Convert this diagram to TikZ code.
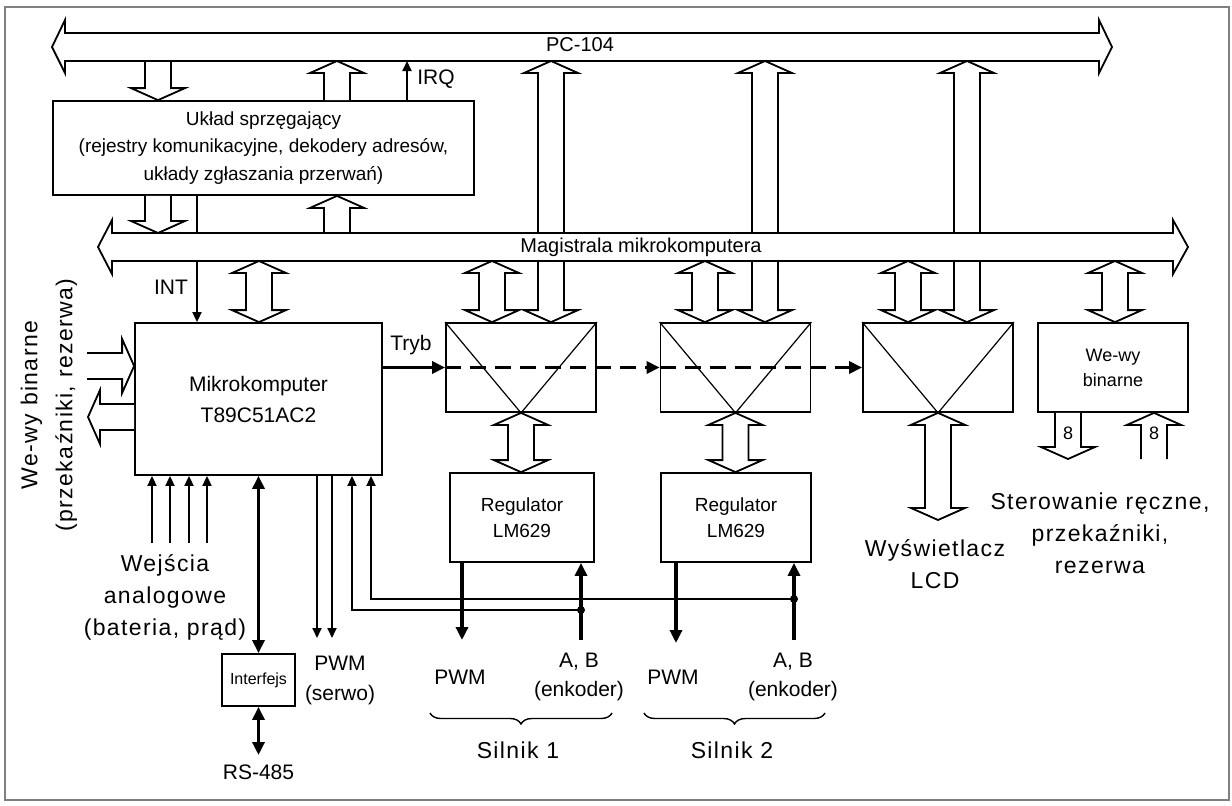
\documentclass[tikz,border=0pt]{standalone}
\usepackage{fontspec}
\setmainfont{Liberation Sans}
\usetikzlibrary{arrows.meta,positioning,calc,decorations.pathreplacing}

% hollow connector, #1 tail, #2 tip
\newcommand{\fatarrow}[2]{%
  \coordinate (fa-t) at (#1);
  \coordinate (fa-p) at (#2);
  \coordinate (fa-h) at ($(fa-p)!12pt!(fa-t)$);
  \filldraw[hollow] ($(fa-t)!13pt!90:(fa-p)$) -- ($(fa-h)!13pt!90:(fa-p)$)
    -- ($(fa-h)!27pt!90:(fa-p)$) -- (fa-p) -- ($(fa-h)!27pt!-90:(fa-p)$)
    -- ($(fa-h)!13pt!-90:(fa-p)$) -- ($(fa-t)!13pt!-90:(fa-p)$);
}
% hollow connector with two heads
\newcommand{\fatdarrow}[2]{%
  \coordinate (fa-a) at (#1);
  \coordinate (fa-b) at (#2);
  \coordinate (fa-ha) at ($(fa-a)!12pt!(fa-b)$);
  \coordinate (fa-hb) at ($(fa-b)!12pt!(fa-a)$);
  \filldraw[hollow] (fa-a) -- ($(fa-ha)!27pt!90:(fa-b)$) -- ($(fa-ha)!13pt!90:(fa-b)$)
    -- ($(fa-hb)!13pt!-90:(fa-a)$) -- ($(fa-hb)!27pt!-90:(fa-a)$) -- (fa-b)
    -- ($(fa-hb)!27pt!90:(fa-a)$) -- ($(fa-hb)!13pt!90:(fa-a)$)
    -- ($(fa-ha)!13pt!-90:(fa-b)$) -- ($(fa-ha)!27pt!-90:(fa-b)$) -- cycle;
}

\begin{document}
\begin{tikzpicture}[x=1pt, y=-1pt,
    box/.style={draw, line width=1.8pt, fill=white, inner sep=0pt, align=center},
    hollow/.style={draw, line width=1.8pt, fill=white, line join=miter},
    ltip/.tip={Triangle[length=10pt, width=9pt]},
    htip/.tip={Triangle[length=13pt, width=12pt]},
    wire/.style={line width=1.8pt, -ltip},
    heavy/.style={line width=3.6pt, -htip},
    lbl/.style={font=\fontsize{21}{30}\selectfont, align=center, inner sep=0pt},
    big/.style={font=\fontsize{23}{32}\selectfont\addfontfeature{LetterSpace=6},
                align=center, inner sep=0pt},
    silbrace/.style={decorate, decoration={brace, mirror, amplitude=11pt}, line width=1.4pt}]
  \useasboundingbox (0,0) rectangle (1232,806);
  \draw[gray, line width=1.5pt] (5,7) rectangle (1229,800);

  % edges of the two buses
  \coordinate (pcS)  at (0,61);
  \coordinate (magN) at (0,233);
  \coordinate (magS) at (0,261);
  % columns of the bus connectors
  \foreach \n/\x in {ukl-in/158, ukl-out/337, irq/407, int/197, mk-bus/259,
                     mx1-bus/492, mx1-pc/551, mx2-bus/705, mx2-pc/765,
                     mx3-bus/908, mx3-pc/967, bin-bus/1115}
    \coordinate (\n) at (\x,0);

  % blocks
  \node[box, minimum width=421, minimum height=94,
        font=\fontsize{19}{27.5}\selectfont] (ukl) at (263.5,148)
       {Układ sprzęgający\\(rejestry komunikacyjne, dekodery adresów,\\układy zgłaszania przerwań)};
  \node[box, minimum width=247, minimum height=152,
        font=\fontsize{21}{31}\selectfont] (mk) at (258.5,399) {Mikrokomputer\\T89C51AC2};
  \node[box, minimum width=150, minimum height=89] (mx1) at (521,367.5) {};
  \node[box, minimum width=150, minimum height=89] (mx2) at (735.5,367.5) {};
  \node[box, minimum width=150, minimum height=89] (mx3) at (938,367.5) {};
  \node[box, minimum width=150, minimum height=89,
        font=\fontsize{18}{25}\selectfont] (bin) at (1113,367.5) {We-wy\\binarne};
  \node[box, minimum width=144, minimum height=89,
        font=\fontsize{19}{26}\selectfont] (reg1) at (522,517.5) {Regulator\\LM629};
  \node[box, minimum width=150, minimum height=89,
        font=\fontsize{19}{26}\selectfont] (reg2) at (736,517.5) {Regulator\\LM629};
  \node[box, minimum width=73, minimum height=52,
        font=\fontsize{16}{20}\selectfont] (ifc) at (258.5,680) {Interfejs};
  \foreach \m in {mx1,mx2,mx3}
    \draw[line width=1.2pt] (\m.north west) -- (\m.south) -- (\m.north east);

  % PC-104 <-> interface block
  \fatarrow{ukl-in |- pcS}{ukl-in |- ukl.north}
  \fatarrow{ukl-out |- ukl.north}{ukl-out |- pcS}
  \fatarrow{ukl-in |- ukl.south}{ukl-in |- magN}
  \fatarrow{ukl-out |- magN}{ukl-out |- ukl.south}
  % local bus <-> blocks
  \foreach \b/\m in {mk-bus/mk, mx1-bus/mx1, mx2-bus/mx2, mx3-bus/mx3, bin-bus/bin}
    {\fatdarrow{\b |- magS}{\b |- \m.north}}
  % straight up to PC-104, under the local bus
  \foreach \b/\m in {mx1-pc/mx1, mx2-pc/mx2, mx3-pc/mx3}
    {\fatdarrow{\b |- \m.north}{\b |- pcS}}
  % to the regulators and the display
  \coordinate (lcd-in) at (938,520);
  \fatdarrow{mx1.south}{mx1.south |- reg1.north}
  \fatdarrow{mx2.south}{mx2.south |- reg2.north}
  \fatdarrow{mx3.south}{lcd-in}
  % binary I/O block
  \coordinate (bin-out) at (1068,459);
  \coordinate (bin-in) at (1154,459);
  \fatarrow{bin-out |- bin.south}{bin-out}
  \fatarrow{bin-in}{bin-in |- bin.south}
  \node[lbl, font=\fontsize{18}{20}\selectfont] (n-out) at (1068,433) {8};
  \node[lbl, font=\fontsize{18}{20}\selectfont] (n-in) at (1154,433) {8};
  % binary I/O of the microcomputer
  \coordinate (lin) at (87,366);
  \coordinate (lout) at (88,417);
  \fatarrow{lin}{lin -| mk.west}
  \fatarrow{lout -| mk.west}{lout}

  % interrupt line, runs under the local bus
  \draw[wire] (int |- ukl.south) -- (int |- mk.north);
  \node[lbl] (int-l) at (171,287) {INT};

  % buses
  \filldraw[hollow] (65,33) -- (1099,33) -- (1099,20) -- (1112,47) -- (1099,73) -- (1099,61)
    -- (65,61) -- (65,73) -- (52,47) -- (65,20) -- cycle;
  \node[lbl, font=\fontsize{20}{24}\selectfont] (pc) at (580,45) {PC-104};
  \filldraw[hollow] (112,233) -- (1173,233) -- (1173,220) -- (1188,247) -- (1173,274) -- (1173,261)
    -- (112,261) -- (112,274) -- (98,247) -- (112,220) -- cycle;
  \node[lbl, font=\fontsize{20}{24}\selectfont] (mag) at (641,247) {Magistrala mikrokomputera};

  \draw[wire] (irq |- ukl.north) -- (irq |- pcS);
  \node[lbl] (irq-l) at (436,79) {IRQ};

  % mode line
  \draw[heavy] (mk.east |- mx1.west) -- (mx1.west);
  \draw[heavy, dash pattern=on 16pt off 9pt] (mx1.west) -- (mx2.west);
  \draw[heavy, dash pattern=on 16pt off 9pt] (mx2.west) -- (mx3.west);
  \node[lbl] (tryb) at (411,345) {Tryb};

  % analog inputs
  \foreach \x in {152,170,189,207}
    \draw[wire] (\x,543) -- (\x,0 |- mk.south);
  \node[big] (ana) at (165,597) {Wejścia\\analogowe\\(bateria, prąd)};

  % RS-485
  \coordinate (rs-in) at (258.5,755);
  \draw[heavy, htip-htip] (mk.south) -- (ifc.north);
  \draw[heavy, htip-htip] (ifc.south) -- (rs-in);
  \node[lbl] (rs) at (258.5,772) {RS-485};

  % servo outputs
  \coordinate (srv-a) at (317,638);
  \coordinate (srv-b) at (332,638);
  \draw[wire] (srv-a |- mk.south) -- (srv-a);
  \draw[wire] (srv-b |- mk.south) -- (srv-b);
  \node[lbl] (srv) at (340,680) {PWM\\(serwo)};

  % motors
  \coordinate (pwm1) at (462,640);
  \coordinate (pwm2) at (676,643);
  \coordinate (enc1) at (581,640);
  \coordinate (enc2) at (794,640);
  \coordinate (fb1) at (581,610);
  \coordinate (fb2) at (794,599);
  \draw[heavy] (pwm1 |- reg1.south) -- (pwm1);
  \draw[heavy] (pwm2 |- reg2.south) -- (pwm2);
  \draw[heavy] (enc1) -- (enc1 |- reg1.south);
  \draw[heavy] (enc2) -- (enc2 |- reg2.south);
  \draw[wire] (fb1) -- (352,610) -- (352,0 |- mk.south);
  \draw[wire] (fb2) -- (371,599) -- (371,0 |- mk.south);
  \fill (fb1) circle[radius=4pt] (fb2) circle[radius=4pt];
  \node[lbl] (pwm1-l) at (460,677) {PWM};
  \node[lbl, font=\fontsize{21}{29}\selectfont] (enc1-l) at (579,677) {A, B\\(enkoder)};
  \node[lbl] (pwm2-l) at (673,677) {PWM};
  \node[lbl, font=\fontsize{21}{29}\selectfont] (enc2-l) at (793,677) {A, B\\(enkoder)};
  \draw[silbrace] (430,713) -- (612,713);
  \draw[silbrace] (644,713) -- (825,713);
  \node[big] (sil1) at (518,750) {Silnik 1};
  \node[big] (sil2) at (732,750) {Silnik 2};

  % right and left captions
  \node[big] (lcd) at (935,564) {Wyświetlacz\\LCD};
  \node[big] (ster) at (1100,533) {Sterowanie ręczne,\\przekaźniki,\\rezerwa};
  \node[big, rotate=90,
        font=\fontsize{23}{35}\selectfont\addfontfeature{LetterSpace=6}] (io-l) at (49,405)
       {We-wy binarne\\(przekaźniki, rezerwa)};
\end{tikzpicture}
\end{document}
